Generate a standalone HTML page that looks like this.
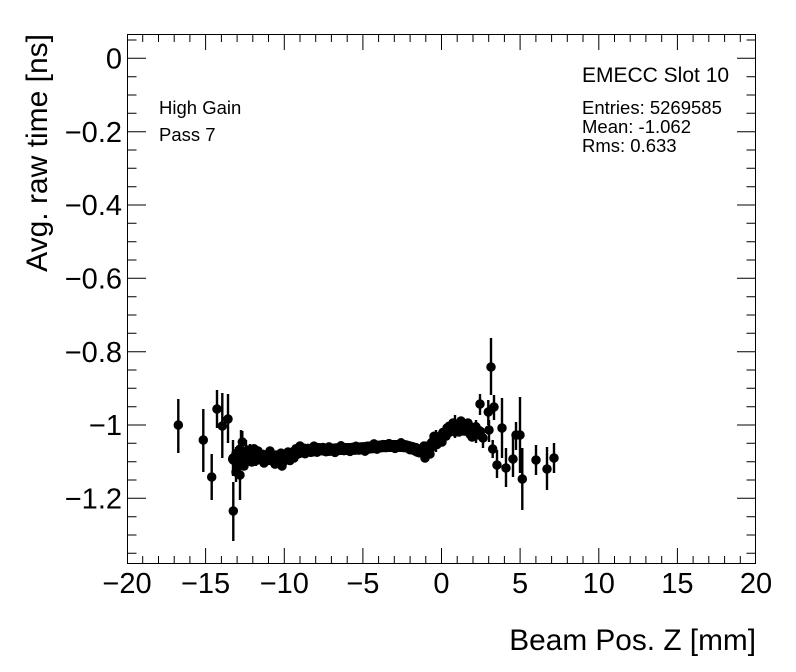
<!DOCTYPE html>
<html><head><meta charset="utf-8"><style>
html,body{margin:0;padding:0;background:#fff;}
svg{display:block;}
text{font-family:"Liberation Sans",Arial,sans-serif;fill:#000;}
</style></head><body>
<svg width="796" height="672" viewBox="0 0 796 672" xmlns="http://www.w3.org/2000/svg">
<rect width="796" height="672" fill="#fff"/>
<!-- frame -->
<rect x="127.5" y="34.5" width="628" height="529" fill="none" stroke="#000" stroke-width="1"/>
<!-- x ticks bottom/top -->
<g stroke="#000" stroke-width="1" fill="none">
<path d="M142.7 564v-8M158.5 564v-8M174.2 564v-8M189.9 564v-8M221.4 564v-8M237.1 564v-8M252.8 564v-8M268.5 564v-8M300 564v-8M315.7 564v-8M331.4 564v-8M347.2 564v-8M378.6 564v-8M394.3 564v-8M410.1 564v-8M425.8 564v-8M457.2 564v-8M473 564v-8M488.7 564v-8M504.4 564v-8M535.9 564v-8M551.6 564v-8M567.3 564v-8M583 564v-8M614.5 564v-8M630.2 564v-8M645.9 564v-8M661.7 564v-8M693.1 564v-8M708.8 564v-8M724.6 564v-8M740.3 564v-8"/>
<path d="M205.6 564v-16M284.3 564v-16M362.9 564v-16M441.5 564v-16M520.1 564v-16M598.8 564v-16M677.4 564v-16"/>
<path d="M142.7 34v8M158.5 34v8M174.2 34v8M189.9 34v8M221.4 34v8M237.1 34v8M252.8 34v8M268.5 34v8M300 34v8M315.7 34v8M331.4 34v8M347.2 34v8M378.6 34v8M394.3 34v8M410.1 34v8M425.8 34v8M457.2 34v8M473 34v8M488.7 34v8M504.4 34v8M535.9 34v8M551.6 34v8M567.3 34v8M583 34v8M614.5 34v8M630.2 34v8M645.9 34v8M661.7 34v8M693.1 34v8M708.8 34v8M724.6 34v8M740.3 34v8"/>
<path d="M205.6 34v16M284.3 34v16M362.9 34v16M441.5 34v16M520.1 34v16M598.8 34v16M677.4 34v16"/>
<!-- y ticks left -->
<path d="M127 40h9.5M127 76.7h9.5M127 95h9.5M127 113.3h9.5M127 150h9.5M127 168.3h9.5M127 186.7h9.5M127 223.3h9.5M127 241.7h9.5M127 260h9.5M127 296.7h9.5M127 315h9.5M127 333.3h9.5M127 370h9.5M127 388.3h9.5M127 406.7h9.5M127 443.3h9.5M127 461.7h9.5M127 480h9.5M127 516.7h9.5M127 535h9.5M127 553.3h9.5"/>
<path d="M127 58.3h19M127 131.7h19M127 205h19M127 278.3h19M127 351.7h19M127 425h19M127 498.3h19"/>
<!-- y ticks right -->
<path d="M756 40h-9.5M756 76.7h-9.5M756 95h-9.5M756 113.3h-9.5M756 150h-9.5M756 168.3h-9.5M756 186.7h-9.5M756 223.3h-9.5M756 241.7h-9.5M756 260h-9.5M756 296.7h-9.5M756 315h-9.5M756 333.3h-9.5M756 370h-9.5M756 388.3h-9.5M756 406.7h-9.5M756 443.3h-9.5M756 461.7h-9.5M756 480h-9.5M756 516.7h-9.5M756 535h-9.5M756 553.3h-9.5"/>
<path d="M756 58.3h-19M756 131.7h-19M756 205h-19M756 278.3h-19M756 351.7h-19M756 425h-19M756 498.3h-19"/>
</g>
<!-- x tick labels -->
<g font-size="29" text-anchor="middle">
<text x="127" y="593">−20</text>
<text x="205.6" y="593">−15</text>
<text x="284.3" y="593">−10</text>
<text x="362.9" y="593">−5</text>
<text x="441.5" y="593">0</text>
<text x="520.1" y="593">5</text>
<text x="598.8" y="593">10</text>
<text x="677.4" y="593">15</text>
<text x="756" y="593">20</text>
</g>
<!-- y tick labels -->
<g font-size="29" text-anchor="end">
<text x="122" y="68.5">0</text>
<text x="122" y="141.9">−0.2</text>
<text x="122" y="215.2">−0.4</text>
<text x="122" y="288.5">−0.6</text>
<text x="122" y="361.9">−0.8</text>
<text x="122" y="435.2">−1</text>
<text x="122" y="508.5">−1.2</text>
</g>
<!-- axis titles -->
<text x="756" y="650" font-size="29.8" text-anchor="end">Beam Pos. Z [mm]</text>
<text transform="translate(47,34) rotate(-90)" font-size="30" text-anchor="end">Avg. raw time [ns]</text>
<!-- labels -->
<text x="159" y="114" font-size="18.5">High Gain</text>
<text x="159" y="141" font-size="18.5">Pass 7</text>
<text x="582" y="82" font-size="21">EMECC Slot 10</text>
<text x="582" y="114" font-size="18.5">Entries: 5269585</text>
<text x="582" y="133" font-size="18.5">Mean: -1.062</text>
<text x="582" y="152" font-size="18.5">Rms: 0.633</text>
<!-- error bars -->
<g stroke="#000" stroke-width="2.4" fill="none">
<path d="M178.3 399V453M203.3 409V472M211.7 454V500M217 390V428M222.3 393V458M228 394V443M233.3 482V541M236 447V482M240 465V500M242.3 431V460M233 440V476M241 430V445M238 448V468M250 444V466M256 446V466M246 440V470"/>
<path d="M480 394V415M488.3 400V425M494 395V420M491 338V395M483 428V448M489 420V442M492.7 440V458M497 450V478M502 398V458M506 448V487M513 437V477M516 422V450M520 397V473M522.3 448V510M536 445V475M547 447V490M554 443V473M470 422V440M476 420V443M460 418V436M448 422V440M436 430V452M455 415V438"/>
</g>
<!-- band core -->
<path d="M234 459L240 456L248 453L255 455L261 457L270 459L278 460L285 458L295 454L301 449L311 451L318 449L328 450L340 449L352 449L365 448L375 447L385 446L405 446L412 448L418 451L425 452L430 447L433 443L441 437L450 430L458 426L467 429L475 431L479 432" fill="none" stroke="#000" stroke-width="12" stroke-linejoin="round" stroke-linecap="round"/>
<!-- markers -->
<path fill="none" stroke="#000" stroke-width="9.5" stroke-linecap="round" d="
M178.3 425h0M203.3 440h0M211.7 477h0M217 409h0M222.3 426h0M228 419h0M233.3 511h0M236 472h0M240 475h0M242.3 442h0
M480 404h0M488.3 412h0M494 407h0M491 367h0M483 438h0M489 430h0M492.7 449h0M497 465h0M502 428h0M506 468h0M513 459h0M516 435h0M520 435h0M522.3 479h0M536 460h0M547 469h0M554 458h0
M236 453.5h0M239 459.5h0M242 453.8h0M245 460h0M248 450h0M251 455.4h0M254 448.7h0M257 460.2h0M260 456.7h0M263 454.4h0M266 461.1h0M269 454.3h0M272 460.8h0M275 464.1h0M278 458.5h0M281 453.1h0M284 461.3h0M287 457.2h0M290 460.5h0M293 451.8h0M296 448.7h0M299 453.7h0
M237 465h0M240 449h0M244 466h0M247 458h0M252 462h0M258 451h0M264 463h0M270 451h0M276 455h0M282 466h0M288 452h0M294 458h0M300 446h0
M302 448.2h0M305 453.8h0M308 448.4h0M311 452h0M314 446.1h0M317 452.3h0M320 449.2h0M323 447.5h0M326 451.8h0M329 446.9h0M332 450.7h0M335 452.4h0M338 448.2h0M341 445.8h0M344 450.6h0M347 449h0M350 451.4h0M353 447.3h0M356 446.3h0M359 450.1h0M362 447.4h0M365 451.2h0M368 446.1h0M371 448.2h0M374 443.9h0M377 449.2h0M380 446.5h0M383 444.6h0M386 447.6h0M389 443.6h0M392 446.8h0M395 448.4h0M398 445.2h0M401 442.8h0M404 447.6h0M407 446.6h0M410 449.8h0M413 446.9h0M416 447.6h0M419 452.7h0
M422 450.1h0M425 458h0M428 446h0M431 447.2h0M434 436.3h0M437 444.5h0M440 437.8h0M443 432.4h0M446 436.1h0M449 426.3h0M452 430.5h0M455 432h0M458 424.5h0M461 421h0M464 431h0M467 429h0M470 434.3h0M473 427.5h0M476 426.8h0M479 435h0
M424 446h0M430 454h0M436 441h0M442 442h0M447 428h0M453 423h0M459 432h0M463 424h0M468 423h0M472 437h0M477 433h0"/>
</svg>
</body></html>
